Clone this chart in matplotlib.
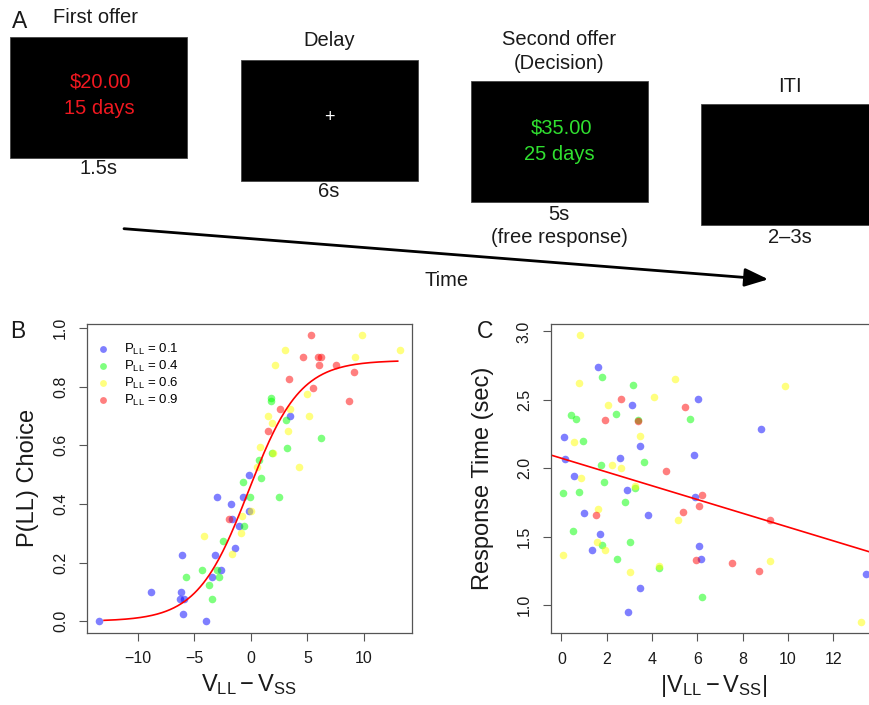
import numpy as np
import matplotlib
matplotlib.use("Agg")
import matplotlib.pyplot as plt
from matplotlib.patches import Rectangle

plt.rcParams['font.family'] = ['Liberation Sans', 'DejaVu Sans']
plt.rcParams['mathtext.fontset'] = 'custom'
plt.rcParams['mathtext.rm'] = 'Liberation Sans'
plt.rcParams['mathtext.it'] = 'Liberation Sans'
plt.rcParams['mathtext.default'] = 'regular'

# ---------------- data ----------------
conditions = ['0.1', '0.4', '0.6', '0.9']
cond_colors = [(0, 0, 1, 0.5), (0, 1, 0, 0.5), (1, 1, 0, 0.5), (1, 0, 0, 0.5)]

# Panel B: value difference vs. probability of choosing the LL option
vdiff_p01 = [-13.47, -8.88, -6.09, -6.15, -6.24, -5.88, -5.97, -3.94, -3.47, -3.18,
             -3.0, -2.62, -1.74, -1.68, -1.38, -1.03, -0.68, -0.18, -0.21, 3.47]
pll_p01 = [0.0, 0.1, 0.225, 0.1, 0.075, 0.075, 0.025, 0.0, 0.15, 0.225,
           0.425, 0.175, 0.4, 0.35, 0.25, 0.325, 0.425, 0.5, 0.375, 0.7]

vdiff_p04 = [-5.74, -4.35, -3.71, -3.44, -3.03, -2.85, -2.5, -0.59, -0.74, -0.06,
             0.74, 0.94, 1.74, 1.79, 1.88, 2.47, 3.15, 3.24, 6.18]
pll_p04 = [0.15, 0.175, 0.125, 0.075, 0.175, 0.15, 0.275, 0.325, 0.475, 0.425,
           0.55, 0.487, 0.762, 0.75, 0.575, 0.425, 0.685, 0.59, 0.625]

vdiff_p06 = [-4.12, -1.68, -0.91, -0.82, 0.03, 0.53, 0.79, 1.56, 1.88, 2.0,
             2.18, 3.03, 3.44, 3.26, 4.26, 4.97, 5.15, 9.18, 9.85, 13.2]
pll_p06 = [0.29, 0.23, 0.3, 0.36, 0.375, 0.525, 0.595, 0.7, 0.675, 0.575,
           0.875, 0.925, 0.725, 0.65, 0.525, 0.775, 0.7, 0.9, 0.975, 0.925]

vdiff_p09 = [-1.97, 1.5, 2.56, 3.35, 4.59, 5.35, 5.47, 5.91, 6.24, 6.06,
             7.53, 8.71, 9.15]
pll_p09 = [0.35, 0.65, 0.725, 0.825, 0.9, 0.975, 0.795, 0.9, 0.9, 0.875,
           0.875, 0.75, 0.85]

# logistic fit: asymptote, slope, midpoint, x-range
fit_asym, fit_slope, fit_mid = 0.89, 0.44, -0.2
fit_range = (-13.0, 13.0)

# Panel C: |value difference| vs. response time
absdiff_p01 = [1.61, 3.11, 6.02, 8.81, 0.13, 3.45, 5.86, 0.15, 2.59, 0.57,
               2.89, 5.91, 1.0, 3.84, 1.71, 1.33, 6.08, 6.17, 3.48, 2.95, 13.43]
rt_p01 = [2.742, 2.46, 2.509, 2.288, 2.23, 2.164, 2.098, 2.067, 2.072, 1.945,
          1.841, 1.79, 1.676, 1.656, 1.522, 1.399, 1.428, 1.338, 1.126, 0.947, 1.224]

absdiff_p04 = [1.78, 3.15, 0.40, 0.65, 2.43, 3.39, 5.67, 0.96, 1.75, 3.65,
               1.90, 0.06, 0.77, 3.24, 2.81, 0.53, 1.81, 3.02, 2.47, 4.29, 6.19]
rt_p04 = [2.667, 2.606, 2.392, 2.361, 2.397, 2.356, 2.361, 2.196, 2.026, 2.045,
          1.897, 1.821, 1.824, 1.853, 1.756, 1.542, 1.44, 1.462, 1.338, 1.267, 1.058]

absdiff_p06 = [0.81, 0.78, 2.06, 0.57, 0.85, 2.21, 2.62, 3.45, 4.08, 5.01,
               9.87, 3.25, 1.61, 1.59, 1.93, 0.06, 3.03, 4.32, 5.15, 9.19, 13.24]
rt_p06 = [2.971, 2.623, 2.465, 2.191, 1.928, 2.021, 2.001, 2.239, 2.521, 2.655,
          2.604, 1.87, 1.705, 1.464, 1.401, 1.367, 1.243, 1.287, 1.62, 1.323, 0.879]

absdiff_p09 = [2.62, 1.94, 3.37, 5.46, 4.61, 6.20, 6.07, 5.35, 1.52, 9.19,
               5.92, 7.54, 8.72]
rt_p09 = [2.507, 2.354, 2.349, 2.448, 1.982, 1.802, 1.722, 1.678, 1.661, 1.622,
          1.33, 1.309, 1.248]

# linear fit of response time on |value difference|
rt_intercept, rt_slope = 2.073, -0.0503

# ---------------- figure ----------------
W, H = 870, 705
fig = plt.figure(figsize=(W / 100, H / 100), dpi=100)

# Panel A: trial schematic drawn in pixel space
axA = fig.add_axes([0, 0, 1, 1])
axA.set_xlim(0, W)
axA.set_ylim(H, 0)
axA.axis('off')
axA.patch.set_alpha(0)

txt = dict(ha='center', va='center', fontsize=14.5, color='#1a1a1a')
screens = [(10, 36.7), (240.7, 60), (470.7, 81), (700.7, 104)]
sw, sh = 177.5, 121
for (x0, y0) in screens:
    axA.add_patch(Rectangle((x0, y0), sw, sh, facecolor='black', edgecolor='#444444', lw=0.6))

axA.text(20, 21, 'A', ha='center', va='center', fontsize=16.5, color='#1a1a1a')
axA.text(96, 17.5, 'First offer', **txt)
axA.text(100.7, 82.3, '$20.00', ha='center', va='center', fontsize=14.5, color='#f01820')
axA.text(99, 109, '15 days', ha='center', va='center', fontsize=14.5, color='#f01820')
axA.text(99, 168, '1.5s', **txt)

axA.text(329, 40.7, 'Delay', **txt)
axA.text(329, 117.7, '+', ha='center', va='center', fontsize=13, color='white')
axA.text(329, 191.7, '6s', **txt)

axA.text(559, 39.3, 'Second offer', **txt)
axA.text(559, 63.3, '(Decision)', **txt)
axA.text(561.7, 127.7, '$35.00', ha='center', va='center', fontsize=14.5, color='#30e030')
axA.text(559, 154, '25 days', ha='center', va='center', fontsize=14.5, color='#30e030')
axA.text(559, 215, '5s', **txt)
axA.text(559, 237.7, '(free response)', **txt)

axA.text(790, 86, 'ITI', **txt)
axA.text(790, 237.3, '2\u20133s', **txt)

axA.annotate('', xy=(768.3, 279.3), xytext=(124, 228.7),
             arrowprops=dict(arrowstyle='-|>,head_length=0.9,head_width=0.35',
                             mutation_scale=16, lw=2.0, color='black',
                             shrinkA=0, shrinkB=0))
axA.text(446.7, 280, 'Time', **txt)

axA.text(18, 331, 'B', ha='center', va='center', fontsize=16.5, color='#1a1a1a')
axA.text(485, 331, 'C', ha='center', va='center', fontsize=16.5, color='#1a1a1a')


def style_axes(ax):
    for s in ax.spines.values():
        s.set_color('#555555')
        s.set_linewidth(0.9)
    ax.tick_params(direction='out', length=5.5, width=0.8, color='#555555',
                   labelsize=11.5, labelcolor='#1a1a1a', pad=8)
    ax.tick_params(axis='y', labelrotation=90)
    for lbl in ax.get_yticklabels():
        lbl.set_va('center')


def padded(lo, hi, frac=0.04):
    r = hi - lo
    return lo - frac * r, hi + frac * r


# Panel B
axB = fig.add_axes([86.7 / W, (H - 632.7) / H, 325.3 / W, 308.7 / H])
xs_B = [vdiff_p01, vdiff_p04, vdiff_p06, vdiff_p09]
ys_B = [pll_p01, pll_p04, pll_p06, pll_p09]
handles = []
for xv, yv, c, lab in zip(xs_B, ys_B, cond_colors, conditions):
    h = axB.scatter(xv, yv, s=30, color=c, linewidths=0, label=r'$P_{LL}$ = ' + lab)
    handles.append(h)
xf = np.linspace(fit_range[0], fit_range[1], 300)
axB.plot(xf, fit_asym / (1 + np.exp(-fit_slope * (xf - fit_mid))), color='red', lw=1.2)

allx = np.concatenate([np.asarray(v) for v in xs_B])
ally = np.concatenate([np.asarray(v) for v in ys_B])
axB.set_xlim(*padded(allx.min(), allx.max()))
axB.set_ylim(*padded(ally.min(), ally.max()))
axB.set_xticks([-10, -5, 0, 5, 10])
axB.set_xticklabels(['\u221210', '\u22125', '0', '5', '10'])
axB.set_yticks(np.arange(0, 1.01, 0.2))
axB.set_yticklabels([f'{v:.1f}' for v in np.arange(0, 1.01, 0.2)])
style_axes(axB)
axB.set_xlabel(r'$V_{LL} - V_{SS}$', fontsize=17, color='#1a1a1a')
axB.xaxis.set_label_coords(0.5, -0.128)
axB.set_ylabel('P(LL) Choice', fontsize=17, color='#1a1a1a')
axB.yaxis.set_label_coords(-0.148, 0.5)
axB.legend(handles=handles, loc='upper left', bbox_to_anchor=(0.031, 0.943),
           frameon=False, fontsize=9.5, handlelength=1.0, handletextpad=1.05,
           labelspacing=0.14, borderaxespad=0, borderpad=0, scatterpoints=1,
           markerscale=0.9)

# Panel C
axC = fig.add_axes([550.7 / W, (H - 633) / H, 327 / W, 309 / H])
xs_C = [absdiff_p01, absdiff_p04, absdiff_p06, absdiff_p09]
ys_C = [rt_p01, rt_p04, rt_p06, rt_p09]
for xv, yv, c in zip(xs_C, ys_C, cond_colors):
    axC.scatter(xv, yv, s=30, color=c, linewidths=0)
axC.axline((0, rt_intercept), slope=rt_slope, color='red', lw=1.2)
allx = np.concatenate([np.asarray(v) for v in xs_C])
ally = np.concatenate([np.asarray(v) for v in ys_C])
axC.set_xlim(*padded(allx.min(), allx.max()))
axC.set_ylim(*padded(ally.min(), ally.max()))
axC.set_xticks(np.arange(0, 13, 2))
axC.set_yticks(np.arange(1.0, 3.01, 0.5))
axC.set_yticklabels([f'{v:.1f}' for v in np.arange(1.0, 3.01, 0.5)])
style_axes(axC)
axC.set_xlabel(r'$|V_{LL} - V_{SS}|$', fontsize=17, color='#1a1a1a')
axC.xaxis.set_label_coords(0.5, -0.128)
axC.set_ylabel('Response Time (sec)', fontsize=17, color='#1a1a1a')
axC.yaxis.set_label_coords(-0.173, 0.5)

fig.savefig('out.png', dpi=100)
